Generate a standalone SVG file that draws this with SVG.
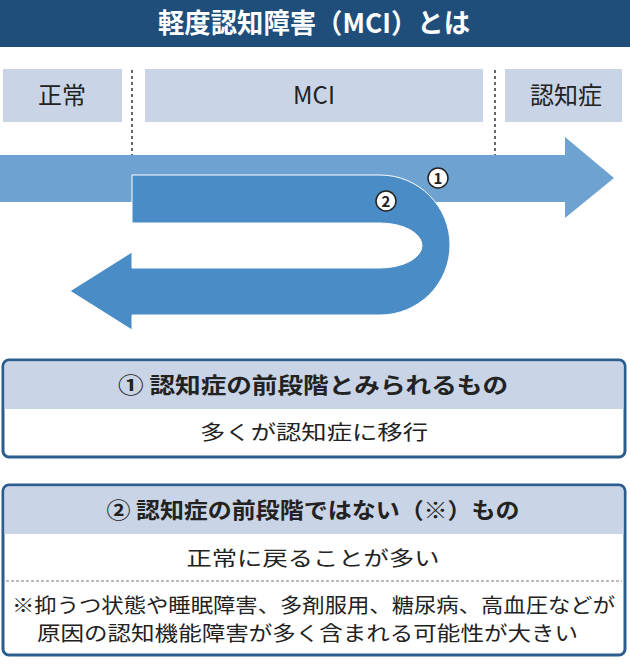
<svg xmlns="http://www.w3.org/2000/svg" width="630" height="665" viewBox="0 0 630 665">
<style>
text{font-family:"Noto Sans CJK JP","Noto Sans",sans-serif;fill:#222}
.b{font-weight:bold}
.band{fill:#c9d5e6}
.box{fill:#fff;stroke:#2b5d8f;stroke-width:3}
.hd{fill:#c9d5e6}
.num{fill:#fff;stroke:#222;stroke-width:1.5}
</style>
<rect x="0" y="0" width="630" height="47" fill="#1f4e7a"/>
<text x="314" y="33" text-anchor="middle" class="b" font-size="27" style="fill:#fff" textLength="312" lengthAdjust="spacingAndGlyphs">軽度認知障害（MCI）とは</text>
<g id="bands">
<rect class="band" x="3" y="69" width="119" height="53"/>
<rect class="band" x="145" y="69" width="338" height="53"/>
<rect class="band" x="505" y="69" width="117" height="53"/>
<text x="62" y="104" text-anchor="middle" font-size="24">正常</text>
<text x="314" y="104" text-anchor="middle" font-size="24">MCI</text>
<text x="566" y="104" text-anchor="middle" font-size="24">認知症</text>
</g>
<g id="connectors" stroke="#333" stroke-width="1.5" stroke-dasharray="3,3">
<line x1="132" y1="70" x2="132" y2="155"/>
<line x1="495" y1="70" x2="495" y2="155"/>
</g>
<g id="arrow1">
<path d="M0 155 H565 V137 L614 178 L565 218 V202 H0 Z" fill="#6ea2d0"/>
</g>
<g id="arrow2">
<path d="M132 175 H380 A70 70 0 0 1 380 315 H132 V330 L70 291 L132 252 V268 H380 A42 22.5 0 0 0 380 223 H132 Z" fill="#4a8cc6" stroke="#fff" stroke-width="1"/>
</g>
<g id="n1"><circle class="num" cx="438" cy="178" r="10"/><text x="438" y="184" text-anchor="middle" class="b" font-size="15">1</text></g>
<g id="n2"><circle class="num" cx="386" cy="201" r="10"/><text x="386" y="207" text-anchor="middle" class="b" font-size="15">2</text></g>
<g id="box1">
<rect class="box" x="3" y="360" width="622" height="97" rx="6"/>
<path class="hd" d="M4.5 409 V366 A4.5 4.5 0 0 1 9 361.5 H619 A4.5 4.5 0 0 1 623.5 366 V409 Z"/>
<text x="313" y="393" text-anchor="middle" class="b" font-size="22" textLength="390" lengthAdjust="spacingAndGlyphs">① 認知症の前段階とみられるもの</text>
<text x="314" y="440" text-anchor="middle" font-size="20" textLength="228" lengthAdjust="spacingAndGlyphs">多くが認知症に移行</text>
</g>
<g id="box2">
<rect class="box" x="3" y="485" width="622" height="170" rx="6"/>
<path class="hd" d="M4.5 534 V491 A4.5 4.5 0 0 1 9 486.5 H619 A4.5 4.5 0 0 1 623.5 491 V534 Z"/>
<text x="313" y="518" text-anchor="middle" class="b" font-size="22" textLength="413" lengthAdjust="spacingAndGlyphs">② 認知症の前段階ではない（※）もの</text>
<text x="313" y="566" text-anchor="middle" font-size="20" textLength="253" lengthAdjust="spacingAndGlyphs">正常に戻ることが多い</text>
<line x1="6" y1="581" x2="622" y2="581" stroke="#777" stroke-width="1" stroke-dasharray="3,2"/>
<text x="12" y="613" font-size="20" textLength="603" lengthAdjust="spacingAndGlyphs">※抑うつ状態や睡眠障害、多剤服用、糖尿病、高血圧などが</text>
<text x="37" y="641" font-size="20" textLength="541" lengthAdjust="spacingAndGlyphs">原因の認知機能障害が多く含まれる可能性が大きい</text>
</g>
</svg>
